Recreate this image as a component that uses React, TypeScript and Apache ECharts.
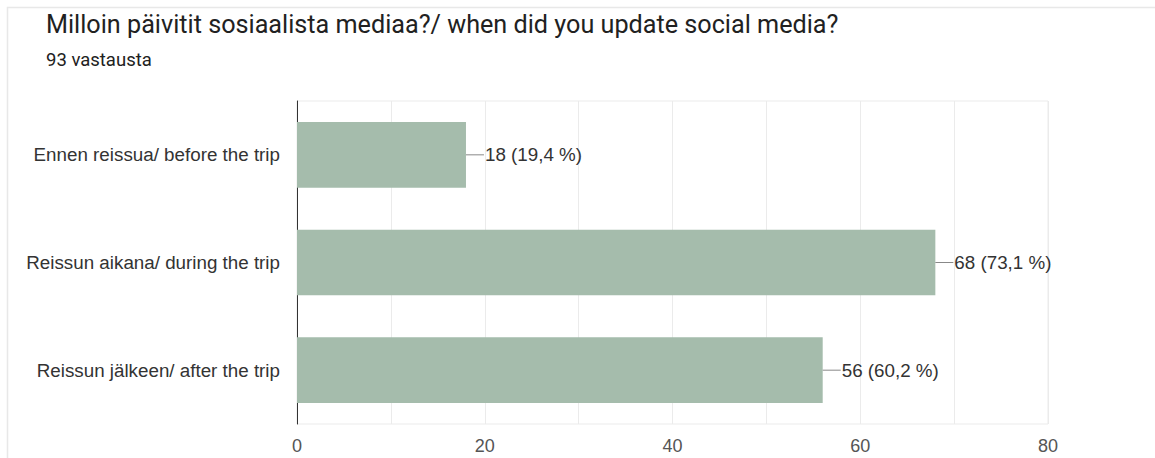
import React, { useEffect, useRef } from "react";
import * as echarts from "echarts";

const title = "Milloin päivitit sosiaalista mediaa?/ when did you update social media?";
const subtitle = "93 vastausta";
const categories = [
  "Ennen reissua/ before the trip",
  "Reissun aikana/ during the trip",
  "Reissun jälkeen/ after the trip",
];
const counts = [18, 68, 56];
const percents = ["19,4", "73,1", "60,2"];

export default function App() {
  const ref = useRef<HTMLDivElement>(null);
  useEffect(() => {
    if (!ref.current) return;
    const chart = echarts.init(ref.current, undefined, { renderer: "svg" });
    const labelFont = "Arial, 'Liberation Sans', sans-serif";
    chart.setOption({
      animation: false,
      backgroundColor: "#ffffff",
      graphic: [
        {
          type: "rect",
          shape: { x: 7.5, y: 7.5, width: 1200, height: 500 },
          style: { fill: "none", stroke: "#e8e8e8", lineWidth: 1.5 },
          z: -1,
        },
        {
          type: "text",
          x: 46,
          y: 24.5,
          style: {
            text: title,
            font: "normal 25.2px Roboto",
            fill: "#212121",
            verticalAlign: "middle",
            align: "left",
          },
        },
        {
          type: "text",
          x: 46,
          y: 59.5,
          style: {
            text: subtitle,
            font: "normal 18.5px Roboto",
            fill: "#212121",
            verticalAlign: "middle",
            align: "left",
          },
        },
      ],
      grid: {
        left: 297,
        right: 107,
        top: 101,
        bottom: 34,
        show: true,
        borderColor: "#ebebeb",
        borderWidth: 1,
      },
      xAxis: {
        type: "value",
        min: 0,
        max: 80,
        interval: 20,
        axisLine: { show: false },
        axisTick: { show: false },
        splitLine: { show: true, lineStyle: { color: "#ebebeb", width: 1 } },
        minorTick: { show: false, splitNumber: 2 },
        minorSplitLine: { show: true, lineStyle: { color: "#ebebeb", width: 1 } },
        axisLabel: { margin: 13, fontFamily: labelFont, fontSize: 18, color: "#555555" },
      },
      yAxis: {
        type: "category",
        data: categories,
        inverse: true,
        axisLine: { show: true, lineStyle: { color: "#333333", width: 1 } },
        axisTick: { show: false },
        axisLabel: { margin: 17, fontFamily: labelFont, fontSize: 18.8, color: "#333333" },
      },
      series: [
        {
          type: "bar",
          data: counts,
          barCategoryGap: "39%",
          itemStyle: { color: "#a5bcac" },
          label: {
            show: true,
            position: "right",
            distance: 0,
            formatter: (p: any) => `{ln| }{t|${counts[p.dataIndex]} (${percents[p.dataIndex]} %)}`,
            rich: {
              ln: { width: 18, height: 1, backgroundColor: "#888888" },
              t: { fontFamily: labelFont, fontSize: 18.8, color: "#333333", padding: [0, 0, 0, 1] },
            },
          },
        },
      ],
    });
    return () => chart.dispose();
  }, []);
  return (
    <div
      ref={ref}
      style={{ position: "absolute", left: 0, top: 0, width: 1155, height: 458 }}
    />
  );
}
